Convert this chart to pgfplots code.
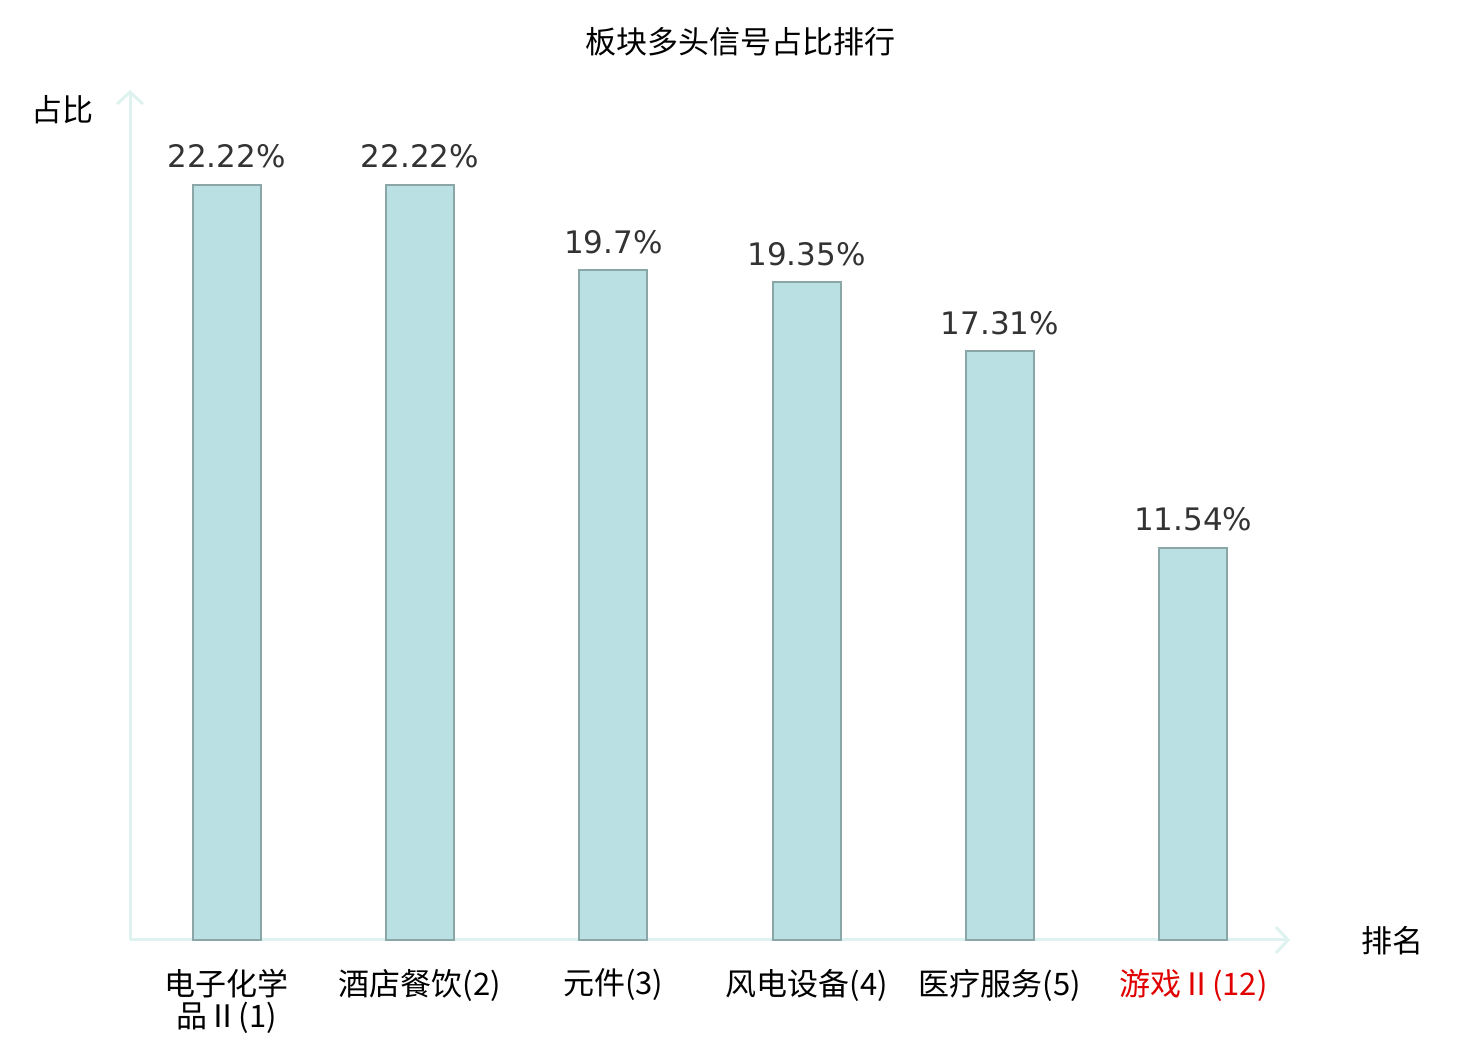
\documentclass[border=0pt]{standalone}
\usepackage{fontspec}
\usepackage{pgfplots}
\pgfplotsset{compat=1.18}
\usepackage{pgfplotstable}
\usetikzlibrary{arrows.meta}
\setmainfont{DejaVu Sans}
\newfontfamily\cjk{Noto Sans CJK SC}
\definecolor{barfill}{HTML}{BBE0E3}
\definecolor{baredge}{HTML}{8AA6A6}
\definecolor{axiscol}{HTML}{DEF2EF}
\definecolor{valcol}{HTML}{333333}
\definecolor{redlab}{HTML}{E00000}
\pgfplotstableread{
x y lab
0 22.22 22.22
1 22.22 22.22
2 19.70 19.7
3 19.35 19.35
4 17.31 17.31
5 11.54 11.54
}\datatable
\begin{document}
\begin{tikzpicture}
\useasboundingbox (0,0) rectangle (740pt,520pt);
\begin{axis}[
  at={(65pt,50pt)}, anchor=south west,
  scale only axis, width=580pt, height=425pt,
  xmin=-0.5, xmax=5.5, ymin=0, ymax=25,
  axis lines=left,
  axis line style={draw=axiscol, line width=1.5pt, -{Straight Barb[length=6pt,width=13pt,line width=1.5pt]}},
  ytick=\empty,
  xtick=data,
  major tick length=0pt,
  xticklabels={{电子化学\\品Ⅱ(1)},{酒店餐饮(2)},{元件(3)},{风电设备(4)},{医疗服务(5)},{\color{redlab}游戏Ⅱ(12)}},
  xticklabel style={font=\cjk\fontsize{15.5}{16}\selectfont, align=center, anchor=north, yshift=-11pt},
  ybar, bar width=34pt,
  point meta=explicit symbolic,
  nodes near coords={\pgfplotspointmeta\%},
  every node near coord/.append style={font=\fontsize{15.5}{18}\selectfont, text=valcol, anchor=base, yshift=8.5pt},
  clip=false,
]
\addplot[fill=barfill, draw=baredge, line width=1pt] table[x=x, y=y, meta=lab] {\datatable};
\end{axis}
\node[font=\cjk\fontsize{15.5}{18}\selectfont] at (370pt,499pt) {板块多头信号占比排行};
\node[font=\cjk\fontsize{15.5}{18}\selectfont] at (31.5pt,465pt) {占比};
\node[font=\cjk\fontsize{15.5}{18}\selectfont] at (696pt,49.5pt) {排名};
\end{tikzpicture}
\end{document}
